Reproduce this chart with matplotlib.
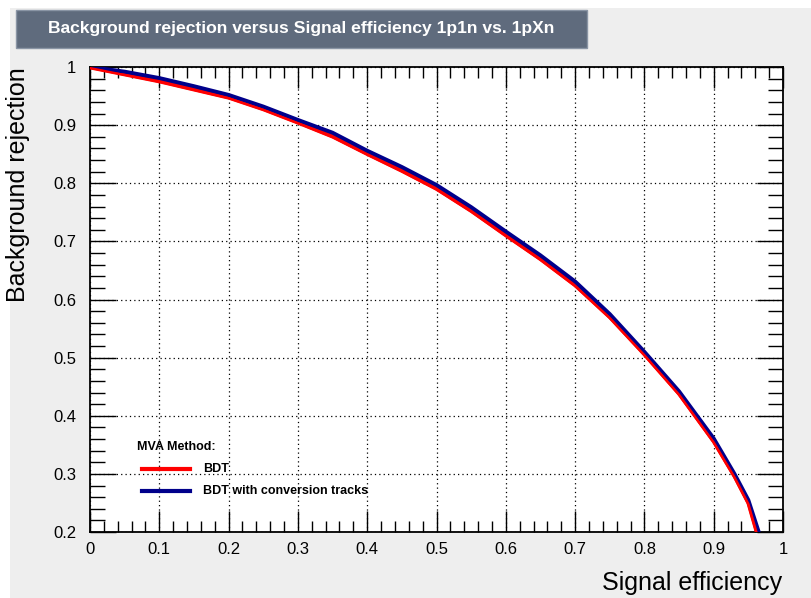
#!/usr/bin/env python3
import matplotlib
matplotlib.use('Agg')
import matplotlib.pyplot as plt
from matplotlib.patches import Rectangle
from matplotlib.ticker import MultipleLocator

TITLE = 'Background rejection versus Signal efficiency 1p1n vs. 1pXn'
XLABEL = 'Signal efficiency'
YLABEL = 'Background rejection'
LEGEND_HEADER = 'MVA Method:'

# ROC curves
bdt_eff = [0.0, 0.05, 0.10, 0.15, 0.20, 0.25, 0.30, 0.35, 0.40, 0.45, 0.50,
           0.55, 0.60, 0.65, 0.70, 0.75, 0.80, 0.85, 0.90, 0.93, 0.95, 0.962]
bdt_rej = [1.000, 0.988, 0.976, 0.962, 0.948, 0.928, 0.905, 0.881, 0.851,
           0.822, 0.791, 0.753, 0.711, 0.670, 0.625, 0.570, 0.506, 0.438,
           0.356, 0.296, 0.250, 0.200]
conv_eff = [0.0, 0.05, 0.10, 0.15, 0.20, 0.25, 0.30, 0.35, 0.40, 0.45, 0.50,
            0.55, 0.60, 0.65, 0.70, 0.75, 0.80, 0.85, 0.90, 0.93, 0.95, 0.965]
conv_rej = [1.000, 0.992, 0.981, 0.967, 0.952, 0.932, 0.909, 0.887, 0.856,
            0.828, 0.797, 0.759, 0.717, 0.676, 0.631, 0.575, 0.510, 0.442,
            0.361, 0.300, 0.255, 0.200]

W, H = 811, 598
FONT = ['Liberation Sans', 'DejaVu Sans']


def px(x, y):
    # pixel (from top-left) -> figure fraction
    return x / W, 1 - y / H


def main():
    plt.rcParams['font.family'] = FONT
    fig = plt.figure(figsize=(W / 100, H / 100), dpi=100, facecolor='white')

    # grey canvas
    fig.patches.append(Rectangle((10 / W, 0), 1 - 10 / W, 1 - 8 / H,
                                 transform=fig.transFigure,
                                 facecolor='#eeeeee', edgecolor='none', zorder=-2))
    # title box
    x0, y1 = px(16, 48)
    x1, y0 = px(587, 10)
    fig.patches.append(Rectangle((x0, y1), x1 - x0, y0 - y1,
                                 transform=fig.transFigure,
                                 facecolor='#5f6b7d', edgecolor='#8a95a5',
                                 linewidth=1, zorder=-1))
    tx, ty = px(301, 29)
    fig.text(tx, ty, TITLE, color='white', fontsize=12.6, fontweight='bold',
             ha='center', va='center')

    l, t = px(90, 67)
    r, b = px(783, 532)
    ax = fig.add_axes([l, b, r - l, t - b])
    ax.set_facecolor('white')

    ax.plot(bdt_eff, bdt_rej, color='#ff0000', lw=2.8, label='BDT', zorder=3)
    ax.plot(conv_eff, conv_rej, color='#00008b', lw=2.8,
            label='BDT with conversion tracks', zorder=4)
    # keep red visible on its lower edge
    ax.plot(bdt_eff, [v - 0.002 for v in bdt_rej], color='#ff0000', lw=1.8, zorder=5)

    ax.set_xlim(0, 1)
    ax.set_ylim(0.2, 1)
    ax.xaxis.set_major_locator(MultipleLocator(0.1))
    ax.xaxis.set_minor_locator(MultipleLocator(0.02))
    ax.yaxis.set_major_locator(MultipleLocator(0.1))
    ax.yaxis.set_minor_locator(MultipleLocator(0.02))
    ax.xaxis.set_major_formatter(lambda v, p: '%g' % round(v, 2))
    ax.yaxis.set_major_formatter(lambda v, p: '%g' % round(v, 2))
    ax.tick_params(which='both', direction='in', top=True, right=True,
                   width=1, colors='black', labelsize=12)
    ax.tick_params(axis='x', which='major', length=15, pad=7)
    ax.tick_params(axis='x', which='minor', length=8)
    ax.tick_params(axis='y', which='major', length=19, pad=10)
    ax.tick_params(axis='y', which='minor', length=11)
    for s in ax.spines.values():
        s.set_linewidth(1.3)
    ax.grid(True, which='major', color='black', linestyle=(0, (1, 2.5)), linewidth=0.9)
    ax.set_axisbelow(False)

    lx, ly = px(782, 583)
    fig.text(lx, ly, XLABEL, fontsize=18, ha='right', va='center')
    yx, yy = px(18, 67)
    fig.text(yx, yy, YLABEL, fontsize=18, rotation=90, ha='center', va='top')

    # legend drawn by hand to match ROOT placement
    hx, hy = px(137, 447)
    fig.text(hx, hy, LEGEND_HEADER, fontsize=9, fontweight='bold', va='center')
    for (yy_px, color, label) in [(469, '#ff0000', 'BDT'),
                                  (491, '#00008b', 'BDT with conversion tracks')]:
        a, c = px(142, yy_px)
        e, _ = px(190, yy_px)
        fig.add_artist(plt.Line2D([a, e], [c, c], color=color, lw=3.0,
                                  transform=fig.transFigure))
        tx2, _ = px(203, yy_px)
        fig.text(tx2, c, label, fontsize=9, fontweight='bold', va='center')

    fig.savefig('out.png', dpi=100, facecolor=fig.get_facecolor())


if __name__ == '__main__':
    main()
